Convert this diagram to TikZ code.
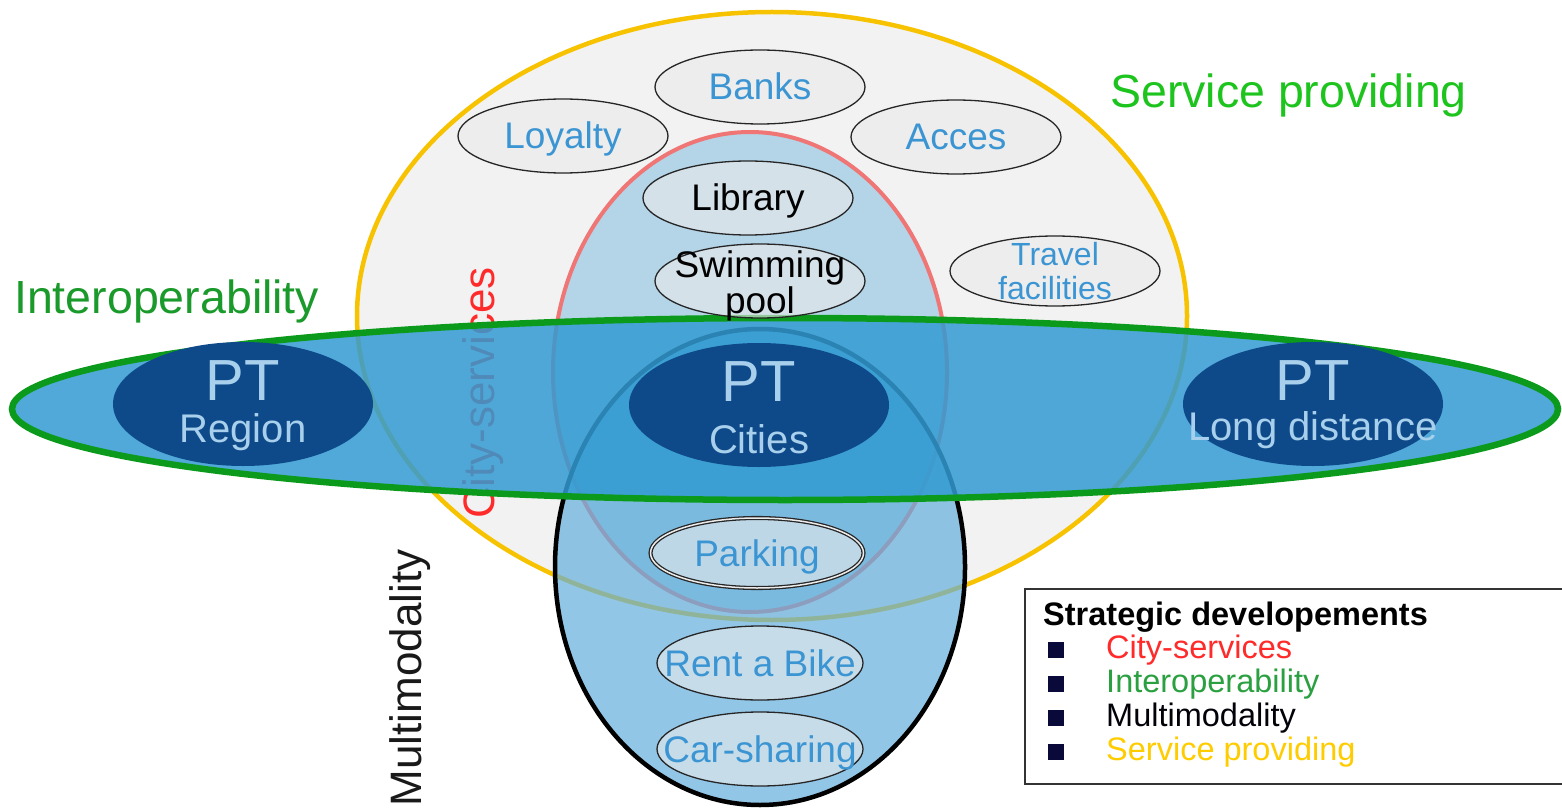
\documentclass[tikz,border=0pt]{standalone}
\usepackage{fontspec}
\setmainfont{Liberation Sans}
\usetikzlibrary{shapes.geometric}
\definecolor{spgray}{HTML}{F2F2F2}
\definecolor{spyellow}{HTML}{F7C300}
\definecolor{cityred}{HTML}{F07575}
\definecolor{cityfill}{HTML}{AACFE6}
\definecolor{multifill}{HTML}{64AFDC}
\definecolor{bandfill}{HTML}{329BD2}
\definecolor{bandgreen}{HTML}{0C9A1C}
\definecolor{ptfill}{HTML}{0E4A8A}
\definecolor{pttext}{HTML}{A8D0EC}
\definecolor{itemblue}{HTML}{3B95D3}
\definecolor{brightgreen}{HTML}{1EC41E}
\definecolor{interogreen}{HTML}{1A9A2A}
\definecolor{legred}{HTML}{FF2A2A}
\definecolor{leggreen}{HTML}{2AA040}
\definecolor{legyellow}{HTML}{FFCC00}
\definecolor{navy}{HTML}{0A0A3A}
\begin{document}
\begin{tikzpicture}[x=1pt,y=-1pt,
  area/.style={ellipse, inner sep=0pt, outer sep=0pt},
  item/.style={ellipse, inner sep=0pt, outer sep=0pt, minimum width=210pt, minimum height=74pt,
    draw=black!85, line width=1.3pt, fill=white!92!black, fill opacity=0.6},
  itemtxt/.style={anchor=base, inner sep=0pt, text=itemblue, font=\fontsize{37}{37}\selectfont},
  itemtxttwo/.style={anchor=center, inner sep=0pt, align=center, text=itemblue},
  ptell/.style={ellipse, inner sep=0pt, outer sep=0pt, minimum width=260pt, minimum height=124pt, fill=ptfill},
  pttop/.style={anchor=base, inner sep=0pt, text=pttext, font=\fontsize{58}{58}\selectfont},
  ptbot/.style={anchor=base, inner sep=0pt, text=pttext, font=\fontsize{40}{40}\selectfont},
  biglabel/.style={inner sep=0pt, font=\fontsize{46.5}{46.5}\selectfont},
  sidelabel/.style={inner sep=0pt, rotate=90, font=\fontsize{44}{44}\selectfont},
  legtxt/.style={anchor=base west, inner sep=0pt, font=\fontsize{32.5}{32.5}\selectfont},
  bullet/.style={fill=navy, minimum size=16pt, inner sep=0pt, anchor=south west}
]
\clip (0,0) rectangle (1562,810);
\fill[white] (0,0) rectangle (1562,810);

% Service providing area
\node[area, fill=spgray, draw=spyellow, line width=4.5pt, minimum width=830pt, minimum height=608pt] (sp) at (772,316) {};
% City-services area
\node[area, fill=cityfill, fill opacity=0.85, draw=cityred, line width=4pt, minimum width=394pt, minimum height=480pt] (city) at (750,372) {};
% Multimodality area
\node[area, fill=multifill, fill opacity=0.7, draw=black, line width=4.5pt, minimum width=410pt, minimum height=476pt] (multi) at (760,567) {};

% side labels under the band
\node[sidelabel, text=legred] (citylbl) at (483,393) {City-services};
\node[sidelabel, text=black!90] (multilbl) at (410,678) {Multimodality};

% Interoperability band
\node[area, fill=bandfill, fill opacity=0.85, draw=bandgreen, line width=6.5pt, minimum width=1546pt, minimum height=182pt] (band) at (785,409) {};

% PT ellipses
\node[ptell] (ptr) at (243,404) {};
\node[ptell] (ptc) at (759,405) {};
\node[ptell] (ptl) at (1313,404) {};
\node[pttop] at (243,400) {PT};
\node[ptbot] at (243,442) {Region};
\node[pttop] at (759,401) {PT};
\node[ptbot] at (759,453) {Cities};
\node[pttop] at (1313,400) {PT};
\node[ptbot] at (1313,440) {Long distance};

% service items
\node[item] (banks) at (760,87) {};
\node[item] (loyalty) at (563,136) {};
\node[item] (acces) at (956,137) {};
\node[item] (library) at (748,198) {};
\node[item] (swim) at (760,281) {};
\node[item, minimum height=70pt] (travel) at (1055,271) {};
\node[item, minimum width=213pt, minimum height=70pt, double=white!92!black, double distance=1.5pt] (parking) at (757,553) {};
\node[item, minimum width=206pt] (bike) at (760,663) {};
\node[item, minimum width=206pt] (car) at (760,749) {};

\node[itemtxt] at ([yshift=-13pt]banks.center) {Banks};
\node[itemtxt] at ([yshift=-13pt]loyalty.center) {Loyalty};
\node[itemtxt] at ([yshift=-13pt]acces.center) {Acces};
\node[itemtxt, text=black] at ([yshift=-13pt]library.center) {Library};
\node[itemtxttwo, text=black, font=\fontsize{37}{34}\selectfont] at ([yshift=-5pt]swim.center) {Swimming\\pool};
\node[itemtxttwo, font=\fontsize{32}{34}\selectfont] at ([yshift=0pt]travel.center) {Travel\\facilities};
\node[itemtxt] at ([yshift=-13pt]parking.center) {Parking};
\node[itemtxt] at ([yshift=-13pt]bike.center) {Rent a Bike};
\node[itemtxt] at ([yshift=-13pt]car.center) {Car-sharing};

% big labels
\node[biglabel, text=brightgreen, anchor=base west] (splbl) at (1110,108) {Service providing};
\node[biglabel, text=interogreen, anchor=base west] (iolbl) at (14,313) {Interoperability};

% legend
\node[draw=black!80, line width=2pt, minimum width=560pt, minimum height=195pt, anchor=north west, inner sep=0pt] (legend) at (1024,588) {};
\node[legtxt, font=\bfseries\fontsize{32.5}{32.5}\selectfont] (legtitle) at (1043,625) {Strategic developements};
\node[bullet] (b1) at (1048,658) {};
\node[bullet] (b2) at (1048,692) {};
\node[bullet] (b3) at (1048,726) {};
\node[bullet] (b4) at (1048,760) {};
\node[legtxt, text=legred] (l1) at (1106,658) {City-services};
\node[legtxt, text=leggreen] (l2) at (1106,692) {Interoperability};
\node[legtxt, text=black!85!navy] (l3) at (1106,726) {Multimodality};
\node[legtxt, text=legyellow] (l4) at (1106,760) {Service providing};
\end{tikzpicture}
\end{document}
